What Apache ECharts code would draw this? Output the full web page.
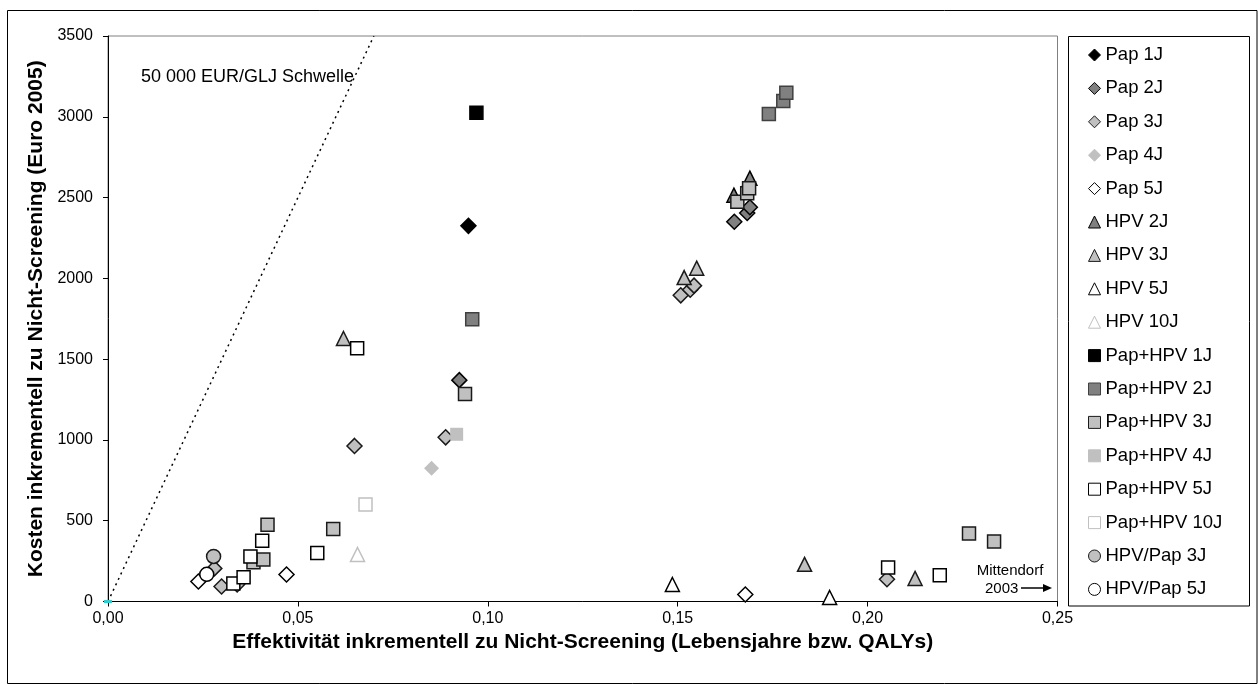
<!DOCTYPE html>
<html lang="de">
<head>
<meta charset="UTF-8">
<title>Kosten-Effektivität Screening</title>
<script src="https://cdn.jsdelivr.net/npm/echarts@6.0.0/dist/echarts.min.js"></script>
<style>
    html, body { margin: 0; padding: 0; background: #fff; }
    #chart { width: 1258px; height: 684px; }
</style>
</head>
<body>
<div id="chart"></div>
<script>
    // Punkte je Strategie: [Effektivität (QALYs), Kosten (Euro 2005)]
    var pap1J = [[0.0949, 2325]];
    var pap2J = [[0.0925, 1370], [0.1649, 2350], [0.1683, 2405], [0.1690, 2440]];
    var pap3J = [[0.0280, 205], [0.0299, 93], [0.0340, 105], [0.0649, 963], [0.0889, 1016],
        [0.1508, 1895], [0.1533, 1930], [0.1543, 1955], [0.2051, 138]];
    var pap4J = [[0.0852, 825]];
    var pap5J = [[0.0238, 124], [0.0470, 167], [0.1678, 43]];
    var hpv2J = [[0.1648, 2515], [0.1690, 2620]];
    var hpv3J = [[0.0620, 1628], [0.1517, 2005], [0.1550, 2063], [0.1834, 230], [0.2125, 143]];
    var hpv5J = [[0.1486, 105], [0.1900, 25]];
    var hpv10J = [[0.0657, 291]];
    var papHpv1J = [[0.0970, 3025]];
    var papHpv2J = [[0.0959, 1747], [0.1740, 3017], [0.1778, 3098], [0.1786, 3148]];
    var papHpv3J = [[0.0383, 243], [0.0409, 260], [0.0420, 475], [0.0593, 449], [0.0940, 1284],
        [0.1657, 2474], [0.1683, 2527], [0.1688, 2558], [0.2267, 421], [0.2333, 372]];
    var papHpv4J = [[0.0918, 1035]];
    var papHpv5J = [[0.0330, 112], [0.0357, 150], [0.0375, 279], [0.0406, 376], [0.0551, 300],
        [0.0656, 1568], [0.2054, 210], [0.2190, 162]];
    var papHpv10J = [[0.0678, 601]];
    var hpvPap3J = [[0.0278, 279]];
    var hpvPap5J = [[0.0260, 168]];

    // 50 000 EUR/GLJ Schwelle (Gerade durch den Ursprung)
    var schwelle = [[0, 0], [0.07, 3500]];
    var ursprung = [[0, 0]];

    var xMin = 0, xMax = 0.25, xStep = 0.05;
    var yMin = 0, yMax = 3500, yStep = 500;

    var fontName = 'Liberation Sans, Arial, sans-serif';

    // name, daten, symbol, groesse, fuellung, rand
    var reihen = [
        ['Pap 1J', pap1J, 'diamond', 15, '#000000', '#000000'],
        ['Pap 2J', pap2J, 'diamond', 15, '#808080', '#000000'],
        ['Pap 3J', pap3J, 'diamond', 15, '#c0c0c0', '#1a1a1a'],
        ['Pap 4J', pap4J, 'diamond', 15, '#c0c0c0', null],
        ['Pap 5J', pap5J, 'diamond', 15, '#ffffff', '#000000'],
        ['HPV 2J', hpv2J, 'triangle', 14, '#808080', '#000000'],
        ['HPV 3J', hpv3J, 'triangle', 14, '#c0c0c0', '#1a1a1a'],
        ['HPV 5J', hpv5J, 'triangle', 14, '#ffffff', '#000000'],
        ['HPV 10J', hpv10J, 'triangle', 14, '#ffffff', '#c0c0c0'],
        ['Pap+HPV 1J', papHpv1J, 'rect', 13, '#000000', '#000000'],
        ['Pap+HPV 2J', papHpv2J, 'rect', 13, '#808080', '#404040'],
        ['Pap+HPV 3J', papHpv3J, 'rect', 13, '#c0c0c0', '#1a1a1a'],
        ['Pap+HPV 4J', papHpv4J, 'rect', 13, '#c0c0c0', null],
        ['Pap+HPV 5J', papHpv5J, 'rect', 13, '#ffffff', '#000000'],
        ['Pap+HPV 10J', papHpv10J, 'rect', 13, '#ffffff', '#c0c0c0'],
        ['HPV/Pap 3J', hpvPap3J, 'circle', 14, '#c0c0c0', '#1a1a1a'],
        ['HPV/Pap 5J', hpvPap5J, 'circle', 14, '#ffffff', '#000000']
    ];

    var series = [{
        name: 'Schwelle',
        type: 'line',
        data: schwelle,
        showSymbol: false,
        silent: true,
        lineStyle: { color: '#000', width: 1.5, type: [2, 4] },
        z: 1
    }, {
        name: 'Ursprung',
        type: 'scatter',
        data: ursprung,
        symbol: 'rect',
        symbolSize: [8, 3],
        silent: true,
        itemStyle: { color: '#33cccc', opacity: 1 }
    }];

    reihen.forEach(function (r) {
        series.push({
            name: r[0],
            type: 'scatter',
            data: r[1],
            symbol: r[2],
            symbolSize: r[3],
            itemStyle: {
                color: r[4],
                opacity: 1,
                borderColor: r[5] || r[4],
                borderWidth: r[5] ? 1.5 : 0
            }
        });
    });

    var chart = echarts.init(document.getElementById('chart'));

    var option = {
        animation: false,
        backgroundColor: '#fff',
        textStyle: { fontFamily: fontName },
        grid: {
            left: 108, right: 200.5, top: 36, bottom: 82.5,
            show: true, borderColor: '#808080', borderWidth: 1
        },
        legend: {
            orient: 'vertical',
            left: 1088, top: 45,
            padding: 0,
            itemWidth: 12, itemHeight: 12,
            itemGap: 13.4,
            itemStyle: { borderWidth: 1, opacity: 1 },
            textStyle: { fontSize: 18.5, color: '#000', lineHeight: 20, fontFamily: fontName },
            data: reihen.map(function (r) { return r[0]; })
        },
        xAxis: {
            type: 'value',
            min: xMin, max: xMax, interval: xStep,
            name: 'Effektivität inkrementell zu Nicht-Screening (Lebensjahre bzw. QALYs)',
            nameLocation: 'middle',
            nameGap: 23,
            nameTextStyle: { fontSize: 21, fontWeight: 'bold', color: '#000', fontFamily: fontName },
            axisLine: { lineStyle: { color: '#000', width: 1 } },
            axisTick: { length: 5, lineStyle: { color: '#000' } },
            axisLabel: {
                margin: 9, fontSize: 16, color: '#000',
                formatter: function (v) { return v.toFixed(2).replace('.', ','); }
            },
            splitLine: { show: false }
        },
        yAxis: {
            type: 'value',
            min: yMin, max: yMax, interval: yStep,
            name: 'Kosten inkrementell zu Nicht-Screening (Euro 2005)',
            nameLocation: 'middle',
            nameGap: 61,
            nameTextStyle: { fontSize: 21, fontWeight: 'bold', color: '#000', fontFamily: fontName },
            axisLine: { show: true, lineStyle: { color: '#000', width: 1 } },
            axisTick: { show: true, length: 5, lineStyle: { color: '#000' } },
            axisLabel: {
                margin: 15, fontSize: 16, color: '#000',
                formatter: function (v) { return String(v); }
            },
            splitLine: { show: false }
        },
        graphic: [
            {
                type: 'rect', silent: true,
                shape: { x: 7.5, y: 10.5, width: 1249.5, height: 673 },
                style: { fill: null, stroke: '#000', lineWidth: 1 }
            },
            {
                type: 'rect', silent: true,
                shape: { x: 1068.5, y: 36.5, width: 181, height: 569.5 },
                style: { fill: null, stroke: '#000', lineWidth: 1 }
            },
            {
                type: 'text', silent: true, x: 141, y: 77,
                style: {
                    text: '50 000 EUR/GLJ Schwelle', fill: '#000',
                    font: '18px ' + fontName, verticalAlign: 'middle'
                }
            },
            {
                type: 'text', silent: true, x: 1010, y: 571,
                style: {
                    text: 'Mittendorf', fill: '#000',
                    font: '15px ' + fontName, align: 'center', verticalAlign: 'middle'
                }
            },
            {
                type: 'text', silent: true, x: 985, y: 589,
                style: {
                    text: '2003', fill: '#000',
                    font: '15px ' + fontName, verticalAlign: 'middle'
                }
            },
            {
                type: 'line', silent: true,
                shape: { x1: 1021, y1: 588, x2: 1046, y2: 588 },
                style: { stroke: '#000', lineWidth: 1.5 }
            },
            {
                type: 'polygon', silent: true,
                shape: { points: [[1052, 588], [1043, 584], [1043, 592]] },
                style: { fill: '#000' }
            }
        ],
        series: series
    };

    chart.setOption(option);
</script>
</body>
</html>
